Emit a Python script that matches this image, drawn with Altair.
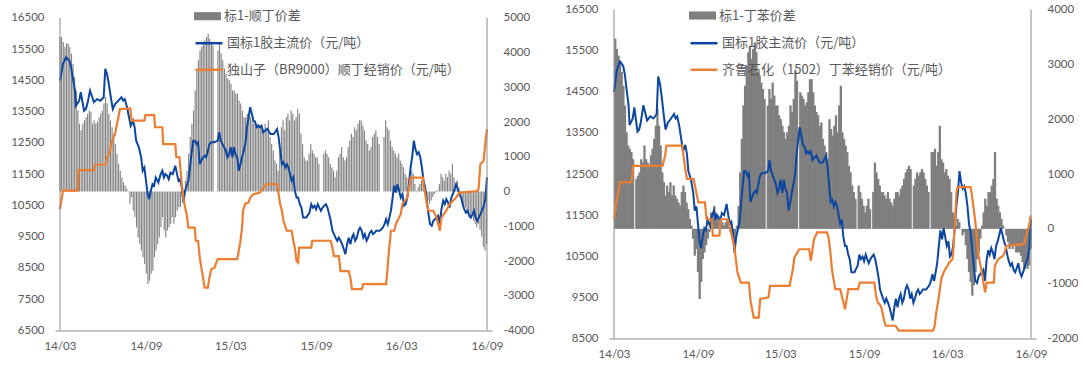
import altair as alt
import pandas as pd
import numpy as np

# ---------------------------------------------------------------- data ----
# x positions are given in months counted from 2014-03 (0 = 2014-03, 30 = 2016-09)

# 国标1胶主流价 (元/吨): [month, price]
BLUE_RUBBER = [
    (0.00, 14490), (0.21, 15030), (0.43, 15240), (0.66, 15130), (0.78, 14920), (0.89, 14600),
    (1.05, 14170), (1.12, 13690), (1.35, 13850), (1.46, 14120), (1.69, 13530), (1.81, 13580),
    (1.92, 13740), (2.11, 14170), (2.27, 13960), (2.38, 13800), (2.61, 13900), (2.84, 13850),
    (3.07, 13960), (3.18, 14870), (3.30, 14710), (3.41, 14440), (3.57, 13960), (3.71, 13580),
    (3.87, 13740), (4.10, 13850), (4.32, 13960), (4.44, 13850), (4.55, 13900), (4.71, 13640),
    (4.85, 13320), (4.97, 13050), (5.13, 13210), (5.24, 13000), (5.35, 12570), (5.54, 12360),
    (5.70, 12040), (5.81, 11610), (5.93, 11710), (6.04, 11290), (6.16, 10860), (6.27, 10700),
    (6.38, 10970), (6.50, 11180), (6.61, 11130), (6.73, 11390), (6.91, 11230), (7.07, 11500),
    (7.19, 11610), (7.30, 11390), (7.41, 11500), (7.53, 11450), (7.64, 11340), (7.76, 11550),
    (7.92, 11500), (8.10, 11770), (8.22, 11500), (8.33, 11290), (8.44, 11340), (8.56, 11070),
    (8.67, 10590), (8.79, 10970), (8.90, 11130), (9.02, 11290), (9.13, 11710), (9.24, 12140),
    (9.36, 12570), (9.47, 12570), (9.59, 12460), (9.70, 12520), (9.82, 11820), (9.93, 11930),
    (10.05, 12040), (10.16, 12090), (10.27, 12040), (10.39, 12250), (10.50, 12460), (10.62, 12520),
    (10.85, 12520), (11.08, 12570), (11.19, 12840), (11.30, 12570), (11.42, 12460), (11.53, 12360),
    (11.65, 12250), (11.76, 12040), (11.88, 12140), (11.99, 12360), (12.11, 12040), (12.22, 12360),
    (12.33, 12140), (12.45, 12040), (12.56, 11610), (12.68, 11820), (12.79, 12040), (12.91, 12250),
    (13.02, 12460), (13.14, 13000), (13.36, 13640), (13.48, 13420), (13.59, 13210), (13.71, 13160),
    (13.82, 13000), (13.94, 13050), (14.05, 13000), (14.16, 13050), (14.28, 12840), (14.39, 12890),
    (14.56, 12950), (14.79, 12780), (15.02, 12780), (15.25, 12940), (15.36, 12680), (15.47, 12250),
    (15.59, 11820), (15.70, 11880), (15.82, 11710), (15.93, 11820), (16.05, 11710), (16.16, 11500),
    (16.27, 11290), (16.39, 11390), (16.50, 10970), (16.62, 10750), (16.73, 10750), (16.85, 10540),
    (16.96, 10430), (17.08, 10110), (17.30, 10110), (17.53, 10270), (17.65, 10540), (17.76, 10430),
    (17.88, 10490), (17.99, 10380), (18.11, 10540), (18.22, 10430), (18.33, 10330), (18.45, 10430),
    (18.56, 10490), (18.68, 10540), (18.79, 10430), (18.91, 10220), (19.02, 10010), (19.14, 9690),
    (19.25, 9580), (19.36, 9470), (19.48, 9370), (19.59, 9470), (19.71, 9370), (19.82, 9260),
    (19.94, 9100), (20.05, 8940), (20.17, 9260), (20.28, 9470), (20.40, 9260), (20.51, 9470),
    (20.62, 9580), (20.74, 9370), (20.85, 9470), (20.97, 9690), (21.08, 9790), (21.20, 9690),
    (21.31, 9470), (21.42, 9580), (21.54, 9370), (21.65, 9470), (21.77, 9630), (21.88, 9690),
    (21.99, 9580), (22.11, 9630), (22.22, 9690), (22.45, 9690), (22.57, 9740), (22.68, 9790),
    (22.80, 9900), (22.91, 10060), (23.03, 9900), (23.14, 10110), (23.25, 10330), (23.37, 10750),
    (23.48, 11130), (23.60, 10910), (23.71, 11180), (23.83, 10970), (23.94, 10750), (24.06, 10860),
    (24.17, 10490), (24.28, 10540), (24.40, 10750), (24.51, 11180), (24.63, 11710), (24.74, 12040),
    (24.86, 12570), (24.97, 12300), (25.09, 12140), (25.20, 12200), (25.31, 12040), (25.43, 11710),
    (25.54, 11290), (25.66, 11070), (25.77, 10650), (25.89, 10220), (26.00, 9900), (26.12, 9850),
    (26.23, 10010), (26.34, 10060), (26.46, 10110), (26.57, 10170), (26.69, 9900), (26.80, 10380),
    (26.92, 10650), (27.03, 10540), (27.14, 10700), (27.26, 10590), (27.37, 10430), (27.49, 10750),
    (27.60, 10860), (27.72, 11020), (27.83, 11180), (27.95, 11020), (28.06, 10860), (28.18, 10750),
    (28.29, 10540), (28.40, 10380), (28.52, 10270), (28.63, 10330), (28.75, 10170), (28.86, 10110),
    (28.98, 10220), (29.09, 10330), (29.20, 10110), (29.32, 10010), (29.55, 10230), (29.75, 10450),
    (29.88, 10700), (30.00, 11400),
]

# 独山子(BR9000)顺丁经销价 (元/吨): [month, price]
BR_PRICE = [
    (0.00, 10380), (0.21, 10970), (1.24, 10970), (1.30, 11630), (2.38, 11630), (2.45, 11800),
    (3.18, 11800), (3.30, 12040), (3.41, 12140), (3.52, 12250), (3.64, 12520), (3.75, 12680),
    (3.87, 12780), (3.98, 13050), (4.10, 13320), (4.21, 13580), (4.94, 13600), (5.03, 13210),
    (5.93, 13210), (6.00, 13390), (6.61, 13390), (6.68, 13000), (7.19, 13000), (7.25, 12460),
    (8.10, 12460), (8.17, 12040), (8.40, 12040), (8.47, 11610), (8.56, 11180), (8.67, 10750),
    (8.79, 10430), (8.90, 10220), (9.02, 9790), (9.47, 9790), (9.54, 9370), (9.70, 9370),
    (9.82, 8830), (9.93, 8510), (10.05, 8190), (10.16, 7870), (10.39, 7870), (10.50, 8190),
    (10.62, 8460), (10.85, 8510), (11.08, 8780), (12.45, 8780), (12.56, 9050), (12.68, 9370),
    (12.79, 9790), (12.86, 10330), (13.02, 10560), (13.25, 10590), (13.36, 10750), (13.59, 10860),
    (14.05, 10910), (14.28, 11070), (14.51, 11180), (15.25, 11180), (15.36, 10860), (15.47, 10540),
    (15.59, 10330), (15.70, 10010), (15.93, 9690), (16.27, 9690), (16.39, 9370), (16.50, 9150),
    (16.62, 8720), (16.73, 8670), (16.80, 9150), (17.65, 9150), (17.72, 9370), (19.02, 9370),
    (19.14, 9150), (19.25, 8880), (19.59, 8880), (19.71, 8400), (20.28, 8400), (20.40, 8190),
    (20.51, 7820), (21.20, 7820), (21.31, 7980), (22.91, 7980), (22.98, 8300), (23.07, 8830),
    (23.16, 9260), (23.25, 9690), (23.48, 9690), (23.60, 9900), (23.71, 10010), (23.94, 10220),
    (24.06, 10540), (24.40, 10750), (24.51, 11070), (24.63, 11390), (25.50, 11390), (25.54, 11180),
    (25.66, 10860), (25.77, 10540), (25.89, 10330), (26.23, 10330), (26.46, 10110), (26.69, 9690),
    (26.80, 10110), (27.14, 10330), (27.37, 10540), (27.83, 10750), (28.06, 10910), (29.35, 10960),
    (29.42, 11070), (29.53, 11820), (29.76, 11930), (29.90, 12570), (30.00, 12940),
]

# 齐鲁石化(1502)丁苯经销价 (元/吨): [month, price]
SBR_PRICE = [
    (0.02, 11400), (0.16, 11810), (0.33, 12090), (0.40, 12300), (1.27, 12300), (1.38, 12700),
    (3.49, 12700), (3.68, 12950), (3.77, 13190), (4.90, 13190), (5.13, 12620), (5.25, 12380),
    (5.72, 12380), (6.07, 11810), (6.54, 11810), (6.66, 11400), (7.01, 11400), (7.12, 11000),
    (7.59, 11000), (7.66, 11400), (8.18, 11400), (8.37, 11160), (8.65, 10750), (8.88, 10110),
    (9.12, 9860), (9.70, 9860), (9.82, 9420), (10.05, 9010), (10.41, 9010), (10.52, 9460),
    (11.11, 9500), (11.23, 9780), (12.63, 9780), (12.87, 10190), (12.98, 10470), (13.33, 10670),
    (14.04, 10670), (14.16, 10390), (14.39, 10920), (14.62, 11080), (15.33, 11080), (15.45, 10920),
    (15.57, 10590), (15.68, 10190), (15.75, 10030), (15.92, 9700), (16.27, 9700), (16.39, 9540),
    (16.50, 9380), (16.62, 9210), (16.74, 9460), (16.86, 9700), (17.56, 9700), (17.68, 9860),
    (18.73, 9860), (18.85, 9540), (18.97, 9380), (19.20, 9290), (19.32, 9130), (19.43, 8930),
    (19.55, 8810), (20.25, 8810), (20.49, 8690), (22.95, 8690), (23.07, 8810), (23.18, 9130),
    (23.35, 9460), (23.54, 9940), (23.72, 10110), (24.12, 10350), (24.36, 10430), (24.43, 10750),
    (24.64, 12050), (24.71, 12180), (25.65, 12180), (25.76, 11970), (26.00, 11320), (26.11, 10920),
    (26.23, 10510), (26.46, 10110), (26.58, 9860), (26.70, 9620), (26.81, 9860), (27.33, 9860),
    (27.40, 10270), (27.64, 10430), (27.99, 10510), (28.10, 10590), (28.22, 10750), (29.51, 10800),
    (29.63, 11000), (29.86, 11240), (29.98, 11490),
]

# 标1-顺丁价差 (元/吨), evenly spaced observations; None = no quote
SPREAD_BR = [
    4450, 4450, 4300, 4160, 4260, 4260, 4160, 3970, 3680, 3300,
    2910, 2330, 1950, 1760, 1950, 2050, 2140, 2240, 2330, 2290,
    1950, 2050, 1950, 2000, 2140, 2240, 2330, 2530, 2720, 2530,
    2240, 2050, 1850, 1660, 1370, 1090, 800, 600, 410, 270,
    170, 80, -20, -360, -160, -550, -740, -1030, -1320, -1510,
    -1700, -1890, -2090, -2370, -2660, -2570, -2370, -2280, -1890, -1700,
    -1510, -1320, -1030, -740, -1120, -1320, -1120, -1030, -930, -740,
    -930, -740, -550, -450, -450, -160, -20, 320, 600, 1090,
    1570, 1950, 2330, 2910, 3490, 3780, 4060, 4160, 4260, 4350,
    4450, 4540, 4400, 4300, 4210, None, None, 4060, 4300, 3970,
    3780, 3540, 3390, 3250, 3200, 3100, 2910, 2910, 2820, 2820,
    2620, 2530, 2330, 2140, 2140, 2240, 2190, 2140, 2050, 1950,
    2050, 1950, 1850, 1900, 1810, 1760,
    1950, 1760, 2050, 1570, 1370, 1180, 890, 800, 600, 1180,
    1850, 2050, 1760, 2140, 2240, 2050, 2330, 2240, 2050, 2140,
    2380, 2240, 1660, 1370, 990, 890, 890, 1090, 1370, 1180,
    1090, 990, 990, 800, None, None, 1090, 1180, 1090, 990,
    800, 700, 600, 410, 600, 990, 1090, 1280, 990, 890,
    990, 1280, 1470, 1660, 1570, 1850, 1760, 1950, 2050, 2050,
    1900, 1760, 1470, 1370, 1180, 1280, 1570, 1660, 1760, 1570,
    1370, None, None, 1570, 2050, 1850, 1760, 1470, 1280, 1180,
    1090, 990, 1090, 890, 800, 700, 510, 410, 220, 320,
    600, 510, 220, -20, 130, 220, 320, 220, 30, -160,
    -260, -360, -260, -160, -70, 30, 30, 220, 510, 410,
    320, 510, 410, 600, 510, 800, 410, 220, 320, 130,
    -160, -260, -360, -450, -550, -640, -740, -640, -840, -930,
    -1030, -930, -1100, -1300, -1600, -1700, -1500,
]

# 标1-丁苯价差 (元/吨), evenly spaced observations; None = no quote
SPREAD_SBR = [
    3470, 3280, 3160, 3040, 2860, 2610, 2250, 1760, 1520, 1460,
    1400, 1270, None, 910, 970, 1030, 1270, 1210, 1520, 1270,
    1210, 1150, 1340, 1460, 1640, 1880, 2190, 1880, 1520, 1030,
    850, 610, 790, 670, 850, 610, 790, 610, 550, 480,
    420, 670, 790, 670, 480, 360, 180, 60, -180, -490,
    -370, -790, -1280, -970, -550, -430, -300, -180, -60, 300,
    180, 420, 300, 240, 120, 180, 120, 60, 120, 180,
    60, -60, -180, -300, -180, 60, 420, 1030, 1640, 2250,
    2610, 2980, 3220, 3340, 3100, 3280, 3400, 3220, 2860, 2800,
    2670, 2550, 2370, None, 2250, 2550, 2370, 2670, 2430, 2250,
    2250, 2070, 2000, 1880, 1760, 1640, 1760, 1880, 2250, 2130,
    2370, 2900, 2700, None, 2490, 2430, 2370, 2250, 2310, 2490,
    2730, 2730, 2490, 2250, 2130,
    2070, 1880, 1940, 1640, 1520, 1400, 1270, 2000, 1820, 1700,
    1880, 2070, 1760, 2250, 2610, 1760, 1640, 1520, 1400, 1150,
    1030, 790, 670, 550, None, 790, 670, 550, 420, 300,
    420, 550, 360, None, 670, 1210, 1030, 910, 790, 670,
    670, 610, 550, 670, 550, 480, 420, 550, 670, 670,
    610, 730, 790, 910, 1030, 1090, 1150, 1090, None, 790,
    910, 1030, 970, 1030, 1090, 1030, 910, 790, 670, None,
    1400, 1400, 1460, 1150, 1400, 1880, 1270, 1210, 1030, 1090,
    970, 910, 670, 300, 180, 60, 180, 120, 0, -120,
    -60, -300, -550, -790, -970, -1220, -1030, -790, -550, -430,
    -180, 60, 300, 550, 420, 670, 670, 790, 910, 1400,
    550, 420, 300, 180, 60, 0, -120, -240, -370, -300,
    -370, -300, -430, -430, -430, -490, -610, -730, -610, -730,
    -670, -370,
]

NAME_RUBBER = "国标1胶主流价（元/吨）"
NAME_BR = "独山子（BR9000）顺丁经销价（元/吨）"
NAME_SBR = "齐鲁石化（1502）丁苯经销价（元/吨）"
NAME_SPREAD_BR = "标1-顺丁价差"
NAME_SPREAD_SBR = "标1-丁苯价差"

X_TICKS = [(2014, 3), (2014, 9), (2015, 3), (2015, 9), (2016, 3), (2016, 9)]

# --------------------------------------------------------------- style ----
BLUE = "#0d46a0"
ORANGE = "#ed7d31"
GRAY_BAR = "#7f7f7f"
TEXT = "#595959"
AXIS_LINE = "#8c8c8c"
NUM_FONT = "Lato"
CJK_FONT = "Noto Sans CJK SC"

START = pd.Timestamp("2014-03-01")
END = pd.Timestamp("2016-09-01")
X_FIRST = alt.DateTime(year=2014, month=3, date=1)
X_LAST = alt.DateTime(year=2016, month=9, date=1)


def month_to_date(m):
    return (START + (END - START) * (float(m) / 30.0)).strftime("%Y-%m-%dT%H:%M:%S")


def line_frame(pairs, name):
    return pd.DataFrame({
        "date": [month_to_date(m) for m, _ in pairs],
        "price": [v for _, v in pairs],
        "series": name,
    })


def bar_frame(values, first, last, name):
    pos = np.linspace(first, last, len(values))
    rows = [(month_to_date(m), v) for m, v in zip(pos, values) if v is not None]
    return pd.DataFrame({"date": [r[0] for r in rows], "spread": [r[1] for r in rows], "name": name})


def x_enc():
    return alt.X(
        "date:T", title=None,
        scale=alt.Scale(domain=[X_FIRST, X_LAST]),
        axis=alt.Axis(values=[alt.DateTime(year=y, month=m, date=1) for y, m in X_TICKS],
                      format="%y/%m", ticks=False, grid=False, domainColor=AXIS_LINE,
                      labelColor=TEXT, labelFont=NUM_FONT, labelFontSize=11.5,
                      labelPadding=10, labelFlush=False, labelOverlap=False),
    )


def y_axis(orient, dom):
    # vertical frame lines are drawn as rules spanning the value range
    return alt.Axis(orient=orient, values=list(range(dom[0], dom[1] + 1, 1000)),
                    labelExpr="'' + datum.value", ticks=False, grid=False, domain=False,
                    labelColor=TEXT, labelFont=NUM_FONT, labelFontSize=11.5, labelPadding=11,
                    labelOverlap=False, labelBound=False, title=None)


def legend(x, y, kind):
    common = dict(orient="none", legendX=x, legendY=y, title=None, padding=0,
                  labelFont=CJK_FONT, labelFontSize=13, labelColor=TEXT, labelLimit=500,
                  labelOffset=3, symbolSize=729, symbolOpacity=1)
    if kind == "bar":
        return alt.Legend(symbolType="M-1,-0.3H1V0.3H-1Z", symbolStrokeWidth=0,
                          rowPadding=0, **common)
    return alt.Legend(symbolType="stroke", symbolStrokeWidth=2.5, rowPadding=4.6, **common)


def panel(spread_vals, spread_span, spread_name, bar_size, other_pairs, other_name,
          left_dom, right_dom, width, height, top_gap, leg_x, leg_y_bar, leg_y_line):
    # both value scales share the same pixel range; top_gap leaves room above the top tick
    y_range = [height, top_gap]
    left_scale = alt.Scale(domain=left_dom, range=y_range, nice=False, zero=False)
    x = x_enc()
    bars = alt.Chart(bar_frame(spread_vals, spread_span[0], spread_span[1], spread_name)).mark_bar(
        size=bar_size
    ).encode(
        x=x,
        y=alt.Y("spread:Q", title=None,
                scale=alt.Scale(domain=right_dom, range=y_range, nice=False, zero=False),
                axis=y_axis("right", right_dom)),
        y2=alt.datum(0),
        fill=alt.Fill("name:N", scale=alt.Scale(domain=[spread_name], range=[GRAY_BAR]),
                      legend=legend(leg_x, leg_y_bar, "bar")),
    )
    stroke = alt.Stroke("series:N", scale=alt.Scale(domain=[NAME_RUBBER, other_name],
                                                    range=[BLUE, ORANGE]),
                        legend=legend(leg_x, leg_y_line, "line"))
    y_line = alt.Y("price:Q", title=None, scale=left_scale, axis=y_axis("left", left_dom))
    rubber = alt.Chart(line_frame(BLUE_RUBBER, NAME_RUBBER)).mark_line(strokeWidth=2).encode(
        x=x, y=y_line, stroke=stroke)
    other = alt.Chart(line_frame(other_pairs, other_name)).mark_line(strokeWidth=2.2).encode(
        x=x, y=y_line, stroke=stroke)
    frame = [
        alt.Chart().mark_rule(color=AXIS_LINE, strokeWidth=1).encode(
            x=alt.datum(edge),
            y=alt.YDatum(left_dom[0], type="quantitative", scale=left_scale,
                         axis=y_axis("left", left_dom)),
            y2=alt.datum(left_dom[1]))
        for edge in (X_FIRST, X_LAST)
    ]
    return alt.layer(bars, alt.layer(rubber, other, *frame)).resolve_scale(
        y="independent").properties(width=width, height=height)


left = panel(SPREAD_BR, (0.0, 29.97), NAME_SPREAD_BR, 1.1, BR_PRICE, NAME_BR,
             [6500, 16500], [-4000, 5000], 437, 321, 8.3, 139, -6.8, 18.7)
right = panel(SPREAD_SBR, (0.09, 29.98), NAME_SPREAD_SBR, 2.3, SBR_PRICE, NAME_SBR,
              [8500, 16500], [-2000, 4000], 427, 329, 0, 80, -7.5, 18.7)

chart = alt.hconcat(left, right, spacing=30).resolve_scale(
    fill="independent", stroke="independent", x="independent"
).resolve_legend(fill="independent", stroke="independent").properties(
    padding={"left": 10, "top": 1.5, "right": 0, "bottom": 0},
    background="white",
).configure_view(stroke=None)

chart.save("out.html", embed_options={"renderer": "svg", "actions": False})
